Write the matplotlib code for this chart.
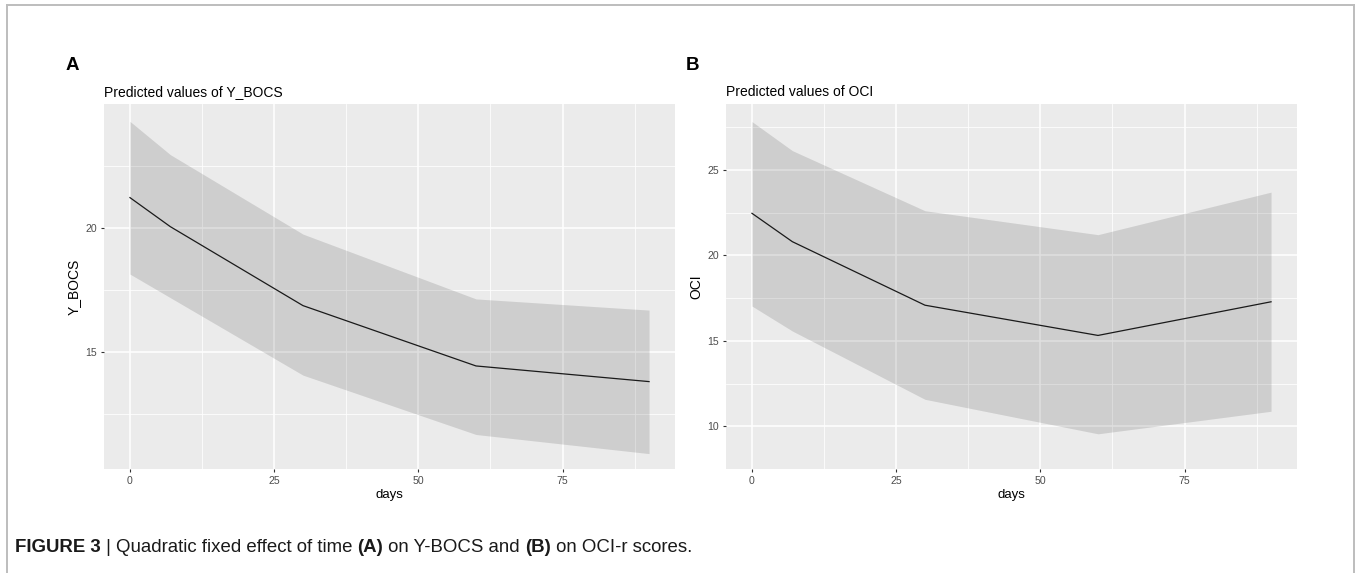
import matplotlib
matplotlib.use("Agg")
import matplotlib.pyplot as plt
from matplotlib import font_manager
from matplotlib.lines import Line2D

# ---------------- data ----------------
days = [0, 7, 30, 60, 90]

ybocs_pred = [21.23, 20.06, 16.88, 14.45, 13.82]
ybocs_high = [24.30, 22.96, 19.76, 17.15, 16.70]
ybocs_low = [18.15, 17.20, 14.08, 11.69, 10.92]

oci_pred = [22.47, 20.81, 17.09, 15.32, 17.29]
oci_high = [27.84, 26.14, 22.62, 21.22, 23.71]
oci_low = [17.04, 15.58, 11.58, 9.56, 10.88]

x_ticks = [0, 25, 50, 75]
ybocs_ticks = [15, 20]
oci_ticks = [10, 15, 20, 25]

titles = ["Predicted values of Y_BOCS", "Predicted values of OCI"]
ylabels = ["Y_BOCS", "OCI"]
panel_tags = ["A", "B"]

# ---------------- style ----------------
available = {f.name for f in font_manager.fontManager.ttflist}
base_font = "Liberation Sans" if "Liberation Sans" in available else "DejaVu Sans"
plt.rcParams["font.family"] = [base_font, "DejaVu Sans"]

W, H = 1357, 573
DPI = 100
fig = plt.figure(figsize=(W / DPI, H / DPI), dpi=DPI)
fig.patch.set_facecolor("white")


def px_axes(left, top, right, bottom):
    return fig.add_axes([left / W, 1 - bottom / H, (right - left) / W, (bottom - top) / H])


def style_panel(ax, xs, pred, lo, hi, yticks, ylim, title, ylabel):
    ax.set_facecolor("#EBEBEB")
    for s in ax.spines.values():
        s.set_visible(False)
    ax.set_xlim(-4.5, 94.5)
    ax.set_ylim(*ylim)
    ax.set_xticks(x_ticks)
    ax.set_yticks(yticks)
    minor_x = [12.5, 37.5, 62.5, 87.5]
    minor_y = [t + 2.5 for t in yticks] + [yticks[0] - 2.5]
    ax.set_xticks(minor_x, minor=True)
    ax.set_yticks(minor_y, minor=True)
    ax.grid(True, which="major", color="white", linewidth=1.1, zorder=0)
    ax.grid(True, which="minor", color="white", linewidth=0.55, zorder=0)
    ax.set_axisbelow(True)
    ax.tick_params(which="minor", length=0)
    ax.tick_params(which="major", length=2.5, width=0.8, color="#333333",
                   labelsize=7.6, labelcolor="#4D4D4D", pad=2.5)
    ax.fill_between(xs, lo, hi, color="black", alpha=0.12, linewidth=0, zorder=2)
    ax.plot(xs, pred, color="#1a1a1a", linewidth=0.9, zorder=3)
    ax.set_xlabel("days", fontsize=9.5, labelpad=2, color="black")
    ax.set_ylabel(ylabel, fontsize=10, labelpad=3, color="black")
    ax.set_title(title, fontsize=10, loc="left", pad=6, color="black")


axA = px_axes(104, 104, 675, 469)
style_panel(axA, days, ybocs_pred, ybocs_low, ybocs_high, ybocs_ticks,
            (10.30, 25.00), titles[0], ylabels[0])

axB = px_axes(726, 104, 1297, 469)
style_panel(axB, days, oci_pred, oci_low, oci_high, oci_ticks,
            (8.69, 28.87), titles[1], ylabels[1])

# panel tags
fig.text(66 / W, 1 - 66 / H, panel_tags[0], fontsize=13.5, fontweight="bold",
         ha="left", va="center")
fig.text(686 / W, 1 - 66 / H, panel_tags[1], fontsize=13.5, fontweight="bold",
         ha="left", va="center")

# figure frame (top, left, right)
frame_color = "#BDBDBD"
fig.add_artist(Line2D([7 / W, 1354 / W], [1 - 5 / H, 1 - 5 / H], transform=fig.transFigure,
                      color=frame_color, linewidth=1.4))
fig.add_artist(Line2D([7 / W, 7 / W], [0, 1 - 5 / H], transform=fig.transFigure,
                      color=frame_color, linewidth=1.4))
fig.add_artist(Line2D([1354 / W, 1354 / W], [0, 1 - 5 / H], transform=fig.transFigure,
                      color=frame_color, linewidth=1.4))

# caption with mixed bold segments
caption_parts = [
    ("FIGURE 3", "bold"),
    (" | Quadratic fixed effect of time ", "normal"),
    ("(A)", "bold"),
    (" on Y-BOCS and ", "normal"),
    ("(B)", "bold"),
    (" on OCI-r scores.", "normal"),
]
fig.canvas.draw()
renderer = fig.canvas.get_renderer()
x_px = 15
y_cap = 1 - 547 / H
for txt, wt in caption_parts:
    t = fig.text(x_px / W, y_cap, txt, fontsize=13.4, fontweight=wt, ha="left",
                 va="center", color="#1a1a1a")
    bb = t.get_window_extent(renderer=renderer)
    x_px += bb.width

fig.savefig("out.png", dpi=DPI)
